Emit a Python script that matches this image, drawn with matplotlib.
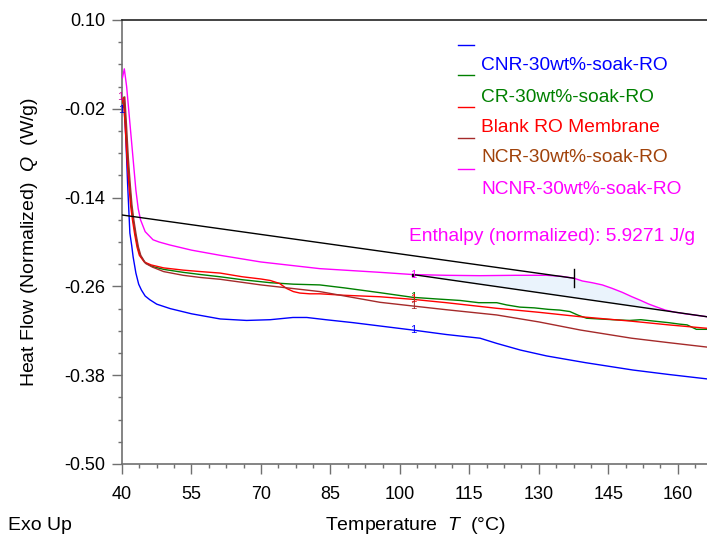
import matplotlib
matplotlib.use("Agg")
import matplotlib.pyplot as plt
from matplotlib.ticker import FixedLocator
import numpy as np

plt.rcParams['font.family'] = ['Liberation Sans', 'DejaVu Sans']
plt.rcParams['mathtext.fontset'] = 'custom'
plt.rcParams['mathtext.it'] = 'Liberation Sans:italic'
plt.rcParams['mathtext.rm'] = 'Liberation Sans'

# NCNR-30wt%-soak-RO (magenta)
t_ncnr = [40.1, 40.5, 41.0, 41.5, 42.0, 42.5, 43.0, 43.5, 44.0, 45.0, 46.7, 48.0, 50.3, 55.0,
          61.2, 70.0, 82.7, 95.7, 102.8, 110.0, 117.3, 125.0, 131.7, 135.0, 137.6, 139.4,
          141.5, 143.7, 145.8, 148.0, 150.1, 152.0, 153.7, 155.5, 157.3, 159.5, 161.6, 164.0, 166.3]
q_ncnr = [0.022, 0.034, 0.010, -0.025, -0.060, -0.095, -0.130, -0.155, -0.170, -0.186, -0.197,
          -0.200, -0.204, -0.211, -0.218, -0.227, -0.236, -0.241, -0.244, -0.245, -0.2455,
          -0.245, -0.245, -0.2465, -0.249, -0.2527, -0.255, -0.258, -0.2626, -0.268, -0.274,
          -0.279, -0.2838, -0.288, -0.292, -0.295, -0.297, -0.299, -0.301]

# CNR-30wt%-soak-RO (blue)
t_cnr = [40.15, 40.4, 40.8, 41.2, 41.7, 42.1, 42.4, 43.0, 43.6, 44.2, 45.0, 46.0, 47.5, 50.4,
         55.0, 61.2, 66.9, 72.0, 76.9, 79.9, 84.0, 89.9, 95.7, 102.8, 110.0, 117.3, 120.9,
         126.0, 131.7, 140.0, 150.3, 158.0, 166.3]
q_cnr = [-0.018, -0.012, -0.055, -0.120, -0.188, -0.205, -0.220, -0.242, -0.257, -0.265,
         -0.273, -0.278, -0.284, -0.290, -0.297, -0.304, -0.306, -0.305, -0.302, -0.302,
         -0.305, -0.309, -0.3135, -0.319, -0.325, -0.330, -0.337, -0.346, -0.354, -0.363,
         -0.373, -0.379, -0.385]

# CR-30wt%-soak-RO (green)
t_cr = [40.15, 40.45, 40.8, 41.2, 41.6, 42.0, 42.4, 42.9, 43.4, 43.9, 45.0, 46.5, 49.0, 53.2,
        57.0, 61.2, 66.0, 72.0, 77.0, 82.7, 88.0, 95.7, 102.8, 108.0, 113.0, 117.0, 120.9,
        123.0, 125.9, 129.0, 132.0, 134.5, 136.7, 138.5, 140.3, 143.0, 146.0, 149.6, 152.0,
        155.0, 158.0, 160.4, 162.0, 164.0, 166.3]
q_cr = [-0.012, -0.004, -0.040, -0.085, -0.120, -0.150, -0.170, -0.190, -0.207, -0.218,
        -0.228, -0.233, -0.237, -0.241, -0.244, -0.247, -0.251, -0.255, -0.257, -0.258,
        -0.262, -0.2685, -0.2748, -0.277, -0.279, -0.282, -0.282, -0.285, -0.288, -0.289,
        -0.291, -0.292, -0.294, -0.299, -0.303, -0.304, -0.305, -0.306, -0.305, -0.307,
        -0.309, -0.311, -0.312, -0.318, -0.318]

# Blank RO Membrane (red)
t_blank = [40.0, 40.3, 40.65, 41.05, 41.45, 41.85, 42.25, 42.75, 43.25, 43.75, 44.8, 46.3,
           49.0, 53.2, 57.0, 61.2, 66.0, 70.0, 72.0, 74.0, 75.6, 77.0, 78.4, 80.5, 82.7, 88.0,
           95.7, 102.8, 110.0, 120.9, 130.0, 139.0, 150.0, 158.0, 166.3]
q_blank = [-0.012, -0.005, -0.040, -0.085, -0.120, -0.150, -0.170, -0.190, -0.207, -0.218,
           -0.227, -0.231, -0.235, -0.238, -0.240, -0.242, -0.247, -0.250, -0.252, -0.256,
           -0.263, -0.267, -0.269, -0.270, -0.270, -0.272, -0.274, -0.2775, -0.282, -0.2896,
           -0.295, -0.301, -0.307, -0.312, -0.3166]

# NCR-30wt%-soak-RO (dark red)
t_ncr = [40.3, 40.6, 40.95, 41.35, 41.75, 42.15, 42.55, 43.05, 43.55, 44.05, 45.1, 46.6, 49.0,
         53.2, 57.0, 61.2, 70.0, 82.7, 95.7, 102.8, 110.0, 120.9, 130.0, 139.0, 150.0, 158.0, 166.3]
q_ncr = [-0.012, -0.004, -0.040, -0.085, -0.120, -0.150, -0.170, -0.190, -0.207, -0.218,
         -0.229, -0.234, -0.240, -0.245, -0.248, -0.2504, -0.258, -0.267, -0.2815, -0.2865,
         -0.2915, -0.2986, -0.308, -0.319, -0.330, -0.336, -0.342]

labels = ["CNR-30wt%-soak-RO", "CR-30wt%-soak-RO", "Blank RO Membrane",
          "NCR-30wt%-soak-RO", "NCNR-30wt%-soak-RO"]
line_colors = ["#0000FF", "#008000", "#FF0000", "#A52A2A", "#FF00FF"]
text_colors = ["#0000FF", "#008000", "#FF0000", "#A0420A", "#FF00FF"]

# enthalpy integration: tangent line, baseline, limits
tangent_t = [40.0, 137.6]
tangent_q = [-0.1635, -0.249]
base_t = [102.8, 166.3]
base_q = [-0.244, -0.301]
marker_t = 137.6
marker_q = [-0.2365, -0.2612]
enthalpy_text = "Enthalpy (normalized): 5.9271 J/g"

x_major = [40, 55, 70, 85, 100, 115, 130, 145, 160]
y_major = [0.10, -0.02, -0.14, -0.26, -0.38, -0.50]
y_ticklabels = ["0.10", "-0.02", "-0.14", "-0.26", "-0.38", "-0.50"]

fig = plt.figure(figsize=(7.07, 5.37), dpi=100)
ax = fig.add_axes([122 / 707, 1 - 464 / 537, 1 - 122 / 707, 444 / 537])

# shaded peak area
tt = np.linspace(base_t[0], 160, 200)
mag = np.interp(tt, t_ncnr, q_ncnr)
base = np.interp(tt, base_t, base_q)
ax.fill_between(tt, mag, base, where=mag >= base, color="#EAF3FC", lw=0, zorder=1)

series = [(t_cnr, q_cnr), (t_cr, q_cr), (t_blank, q_blank), (t_ncr, q_ncr), (t_ncnr, q_ncnr)]
for (t, q), c in zip(series, line_colors):
    ax.plot(t, q, color=c, lw=1.0, zorder=3)

ax.plot(tangent_t, tangent_q, color="black", lw=1.0, zorder=4)
ax.plot(base_t, base_q, color="black", lw=1.0, zorder=4)
ax.plot([marker_t, marker_t], marker_q, color="black", lw=1.0, zorder=4)
ax.plot(base_t[0], base_q[0], marker="s", ms=2, color="black", zorder=5)

# "1" data labels from the analysis software
for (t, q), c in zip(series, line_colors):
    ax.text(102.8, np.interp(102.8, t, q), "1", color=c, fontsize=8, ha="center",
            va="center", zorder=5)
ax.text(39.7, -0.004, "1", color="#CC0099", fontsize=8, ha="center", va="center", clip_on=False)
ax.text(39.75, -0.021, "1", color="#0000CC", fontsize=8, ha="center", va="center", clip_on=False)

ax.text(102.0, -0.1925, enthalpy_text, color="#FF00FF", fontsize=13.8, va="center")

# legend (marks sit one row above their text, as in the original export)
leg_y_lines = [45, 75, 107, 138, 169]
leg_y_text = [66, 97, 128, 158, 189]
for c, yl in zip(line_colors, leg_y_lines):
    fig.add_artist(plt.Line2D([458 / 707, 474 / 707], [1 - yl / 537] * 2, color=c, lw=1.0))
for lab, c, yt in zip(labels, text_colors, leg_y_text):
    fig.text(481 / 707, 1 - yt / 537, lab, color=c, fontsize=13.8, va="center")

ax.set_xlim(40, 166.3)
ax.set_ylim(-0.50, 0.10)
ax.xaxis.set_major_locator(FixedLocator(x_major))
ax.xaxis.set_minor_locator(FixedLocator(np.arange(40, 166.3, 3.75)))
ax.yaxis.set_major_locator(FixedLocator(y_major))
ax.yaxis.set_minor_locator(FixedLocator(np.arange(-0.50, 0.1001, 0.03)))
ax.set_yticklabels(y_ticklabels)
ax.tick_params(which="major", length=7, width=1, color="#707070", labelsize=13, direction="out")
ax.tick_params(which="minor", length=3, width=1, color="#707070", direction="out")
ax.tick_params(axis="x", which="major", pad=9)
ax.tick_params(axis="y", which="major", pad=5)

ax.spines["right"].set_visible(False)
ax.spines["top"].set_color("#222222")
ax.spines["left"].set_color("#707070")
ax.spines["bottom"].set_color("#707070")
for s in ax.spines.values():
    s.set_linewidth(1.2)

fig.text(415 / 707, 1 - 525 / 537, r"Temperature  $\it{T}$  (°C)", fontsize=14,
         ha="center", va="center")
fig.text(8 / 707, 1 - 525 / 537, "Exo Up", fontsize=14, ha="left", va="center")
fig.text(30 / 707, 1 - 242 / 537, r"Heat Flow (Normalized)  $\it{Q}$  (W/g)", fontsize=14,
         ha="center", va="center", rotation=90)

fig.savefig("out.png", dpi=100)
